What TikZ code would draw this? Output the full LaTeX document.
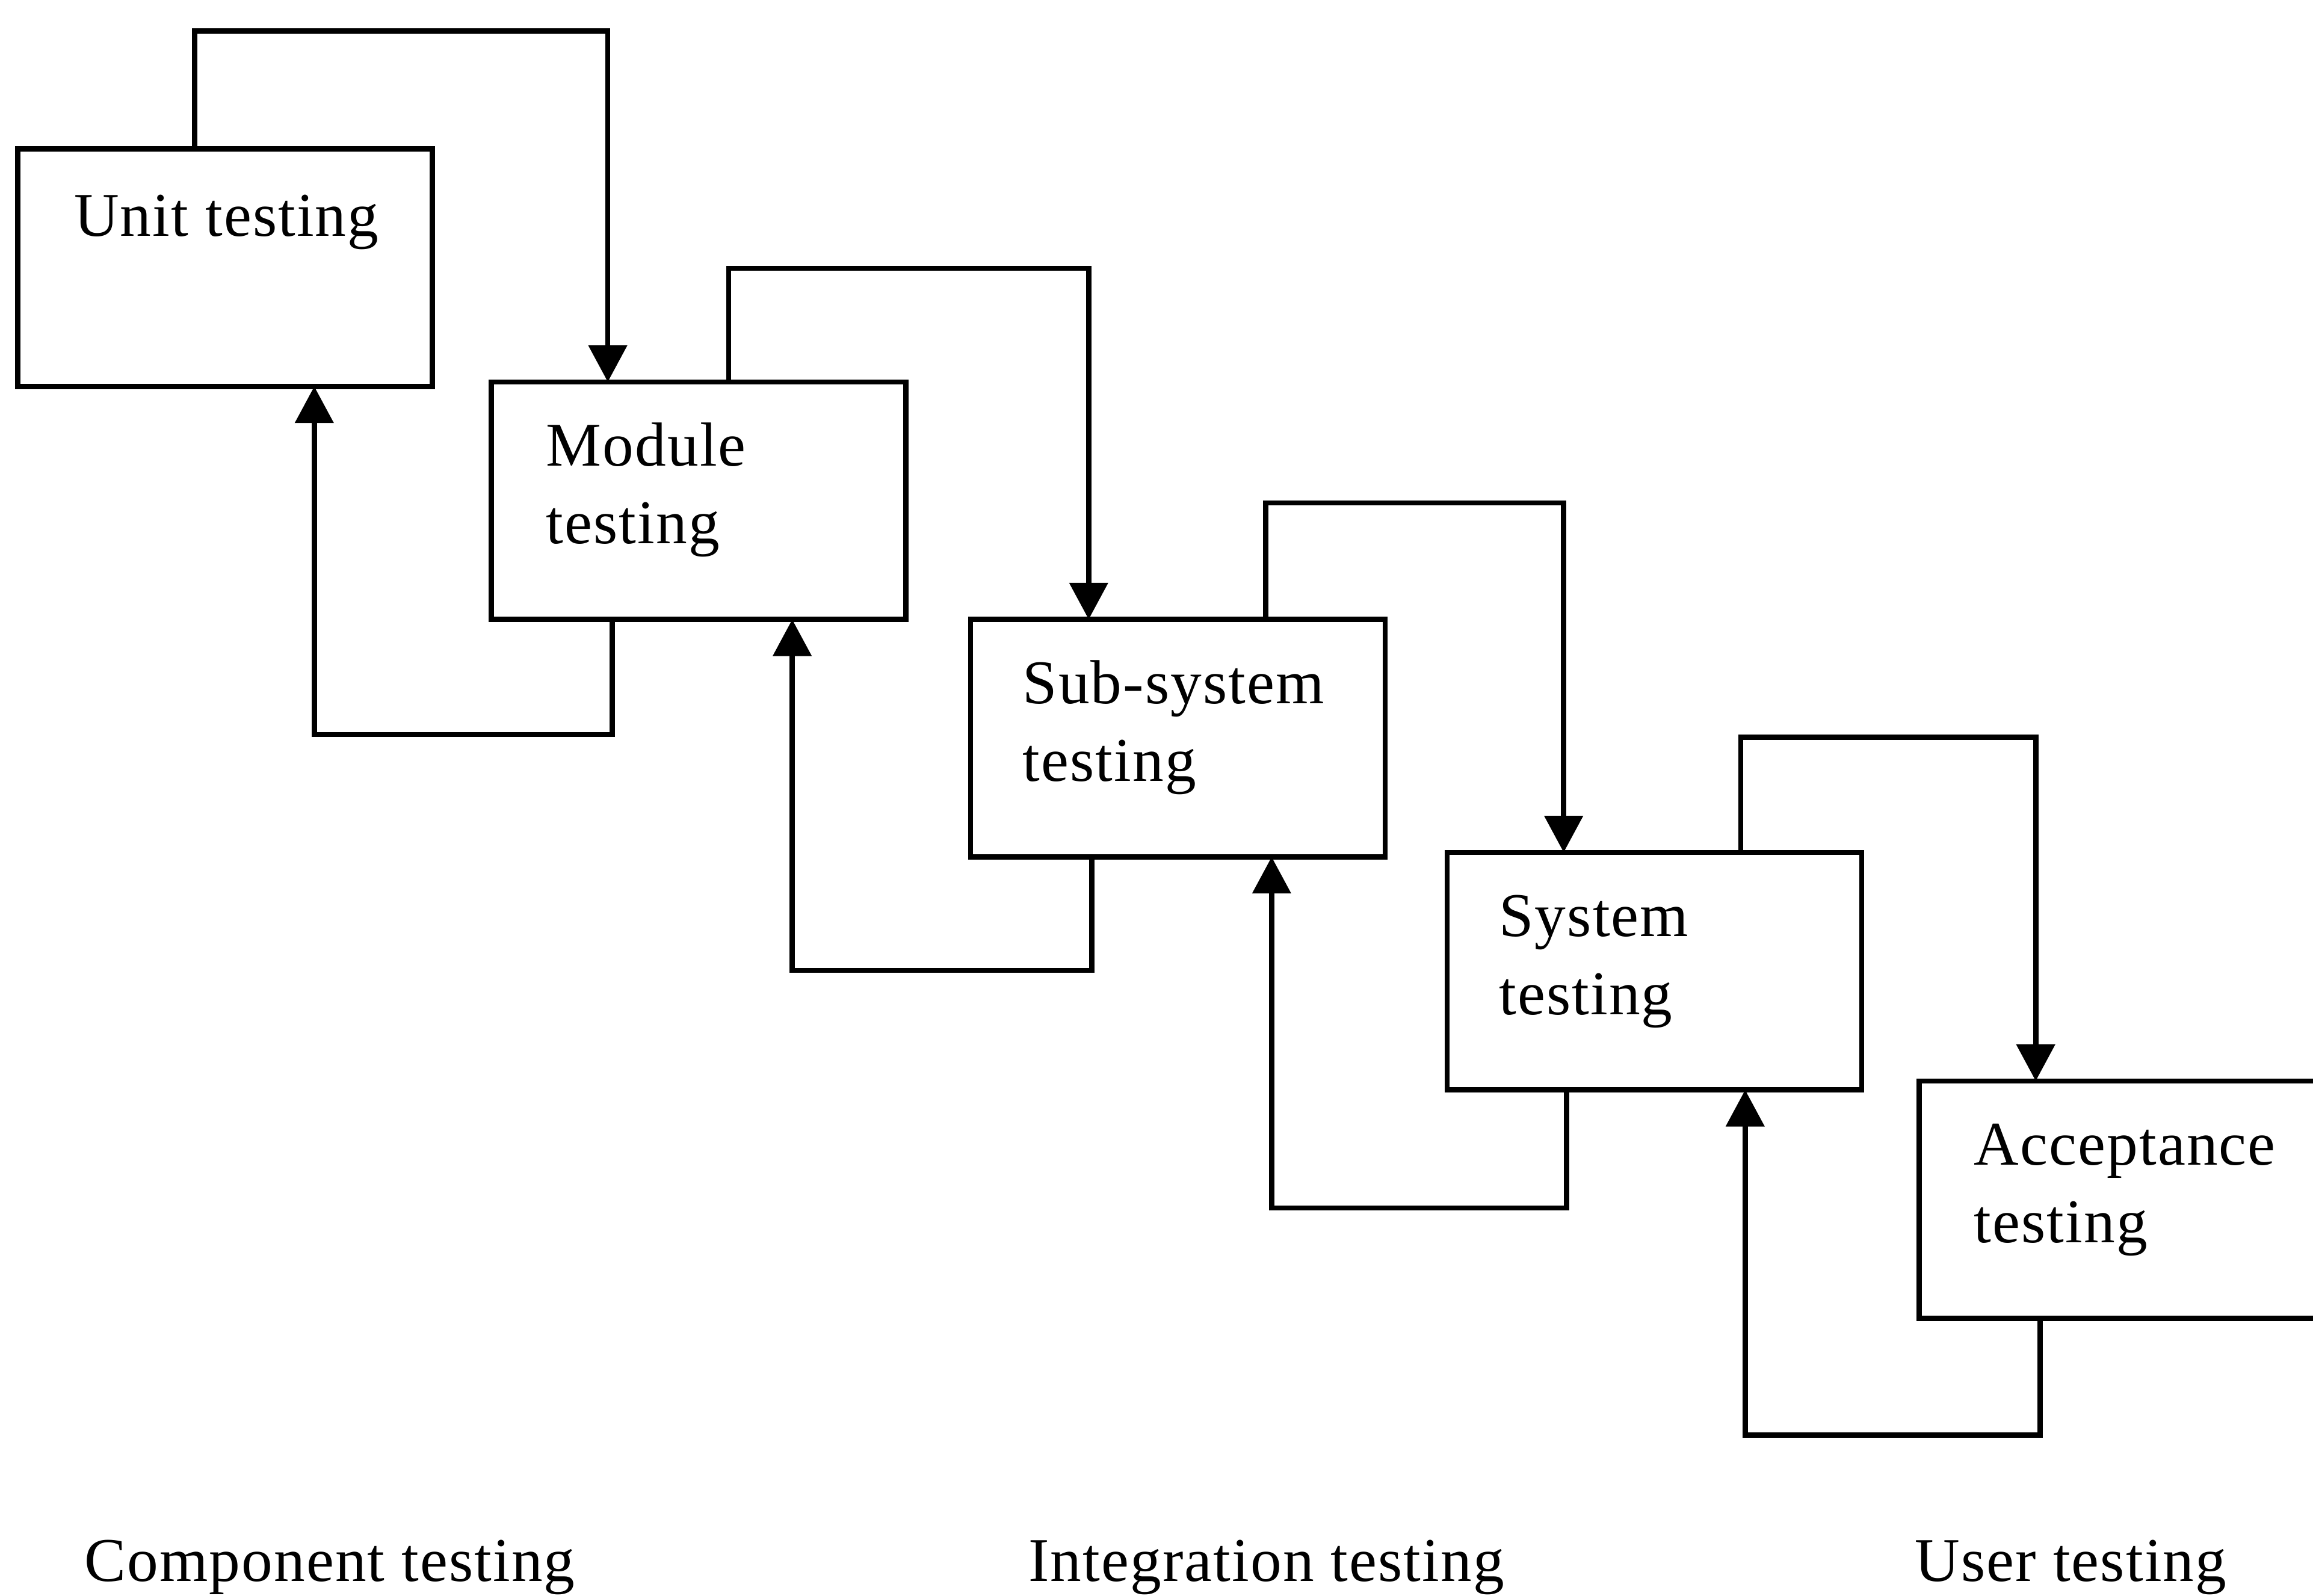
\documentclass[tikz,border=0pt]{standalone}
\usepackage{fontspec}
\setmainfont{Liberation Serif}[LetterSpace=2]
\usetikzlibrary{arrows.meta}
\tikzset{
  x=0.025cm, y=0.025cm,
  stage/.style={draw, line width=2.5pt, rectangle, outer sep=0pt, inner sep=0pt,
    minimum width=7.025cm, minimum height=4.025cm, anchor=north west},
  stagetext/.style={anchor=base west, align=left, inner sep=0pt,
    font=\fontsize{30}{37.5}\selectfont},
  grouptext/.style={anchor=base west, inner sep=0pt,
    font=\fontsize{30}{37.5}\selectfont},
  flow/.style={line width=2.5pt, -{Triangle[length=0.62cm, width=0.64cm]}}
}
\begin{document}
\begin{tikzpicture}
\useasboundingbox (0,0) rectangle (1568,1082);
\begin{scope}
\clip (0,0) rectangle (1568,1082);

% testing stages
\node[stage] (U) at (12,981) {};
\node[stage] (M) at (333,823) {};
\node[stage] (S) at (658,662) {};
\node[stage] (Y) at (981,504) {};
\node[stage] (A) at (1301,349) {};

% stage names (base anchor sits on the last line)
\node[stagetext] (Ut) at ([xshift=0.95cm,yshift=-1.475cm]U.north west) {Unit testing};
\node[stagetext] (Mt) at ([xshift=0.925cm,yshift=-2.743cm]M.north west) {Module\\testing};
\node[stagetext] (St) at ([xshift=0.875cm,yshift=-2.743cm]S.north west) {Sub-system\\testing};
\node[stagetext] (Yt) at ([xshift=0.875cm,yshift=-2.743cm]Y.north west) {System\\testing};
\node[stagetext] (At) at ([xshift=0.925cm,yshift=-2.743cm]A.north west) {Acceptance\\testing};

% forward connectors over the tops
\draw[flow] ([xshift=3.0cm]U.north west) -- ++(0,80) -| ([xshift=1.975cm]M.north west);
\draw[flow] ([xshift=4.025cm]M.north west) -- ++(0,77) -| ([xshift=2.0cm]S.north west);
\draw[flow] ([xshift=5.0cm]S.north west) -- ++(0,79) -| ([xshift=1.975cm]Y.north west);
\draw[flow] ([xshift=4.975cm]Y.north west) -- ++(0,78) -| ([xshift=1.975cm]A.north west);

% feedback connectors under the bottoms
\draw[flow] ([xshift=2.05cm]M.south west) -- ++(0,-78) -| ([xshift=5.025cm]U.south west);
\draw[flow] ([xshift=2.05cm]S.south west) -- ++(0,-77) -| ([xshift=5.1cm]M.south west);
\draw[flow] ([xshift=2.025cm]Y.south west) -- ++(0,-80) -| ([xshift=5.1cm]S.south west);
\draw[flow] ([xshift=2.05cm]A.south west) -- ++(0,-79) -| ([xshift=5.05cm]Y.south west);
\end{scope}

% group captions
\node[grouptext] (G1) at (57,10) {Component testing};
\node[grouptext] (G2) at (697,10) {Integration testing};
\node[grouptext] (G3) at (1298,10) {User testing};
\end{tikzpicture}
\end{document}
